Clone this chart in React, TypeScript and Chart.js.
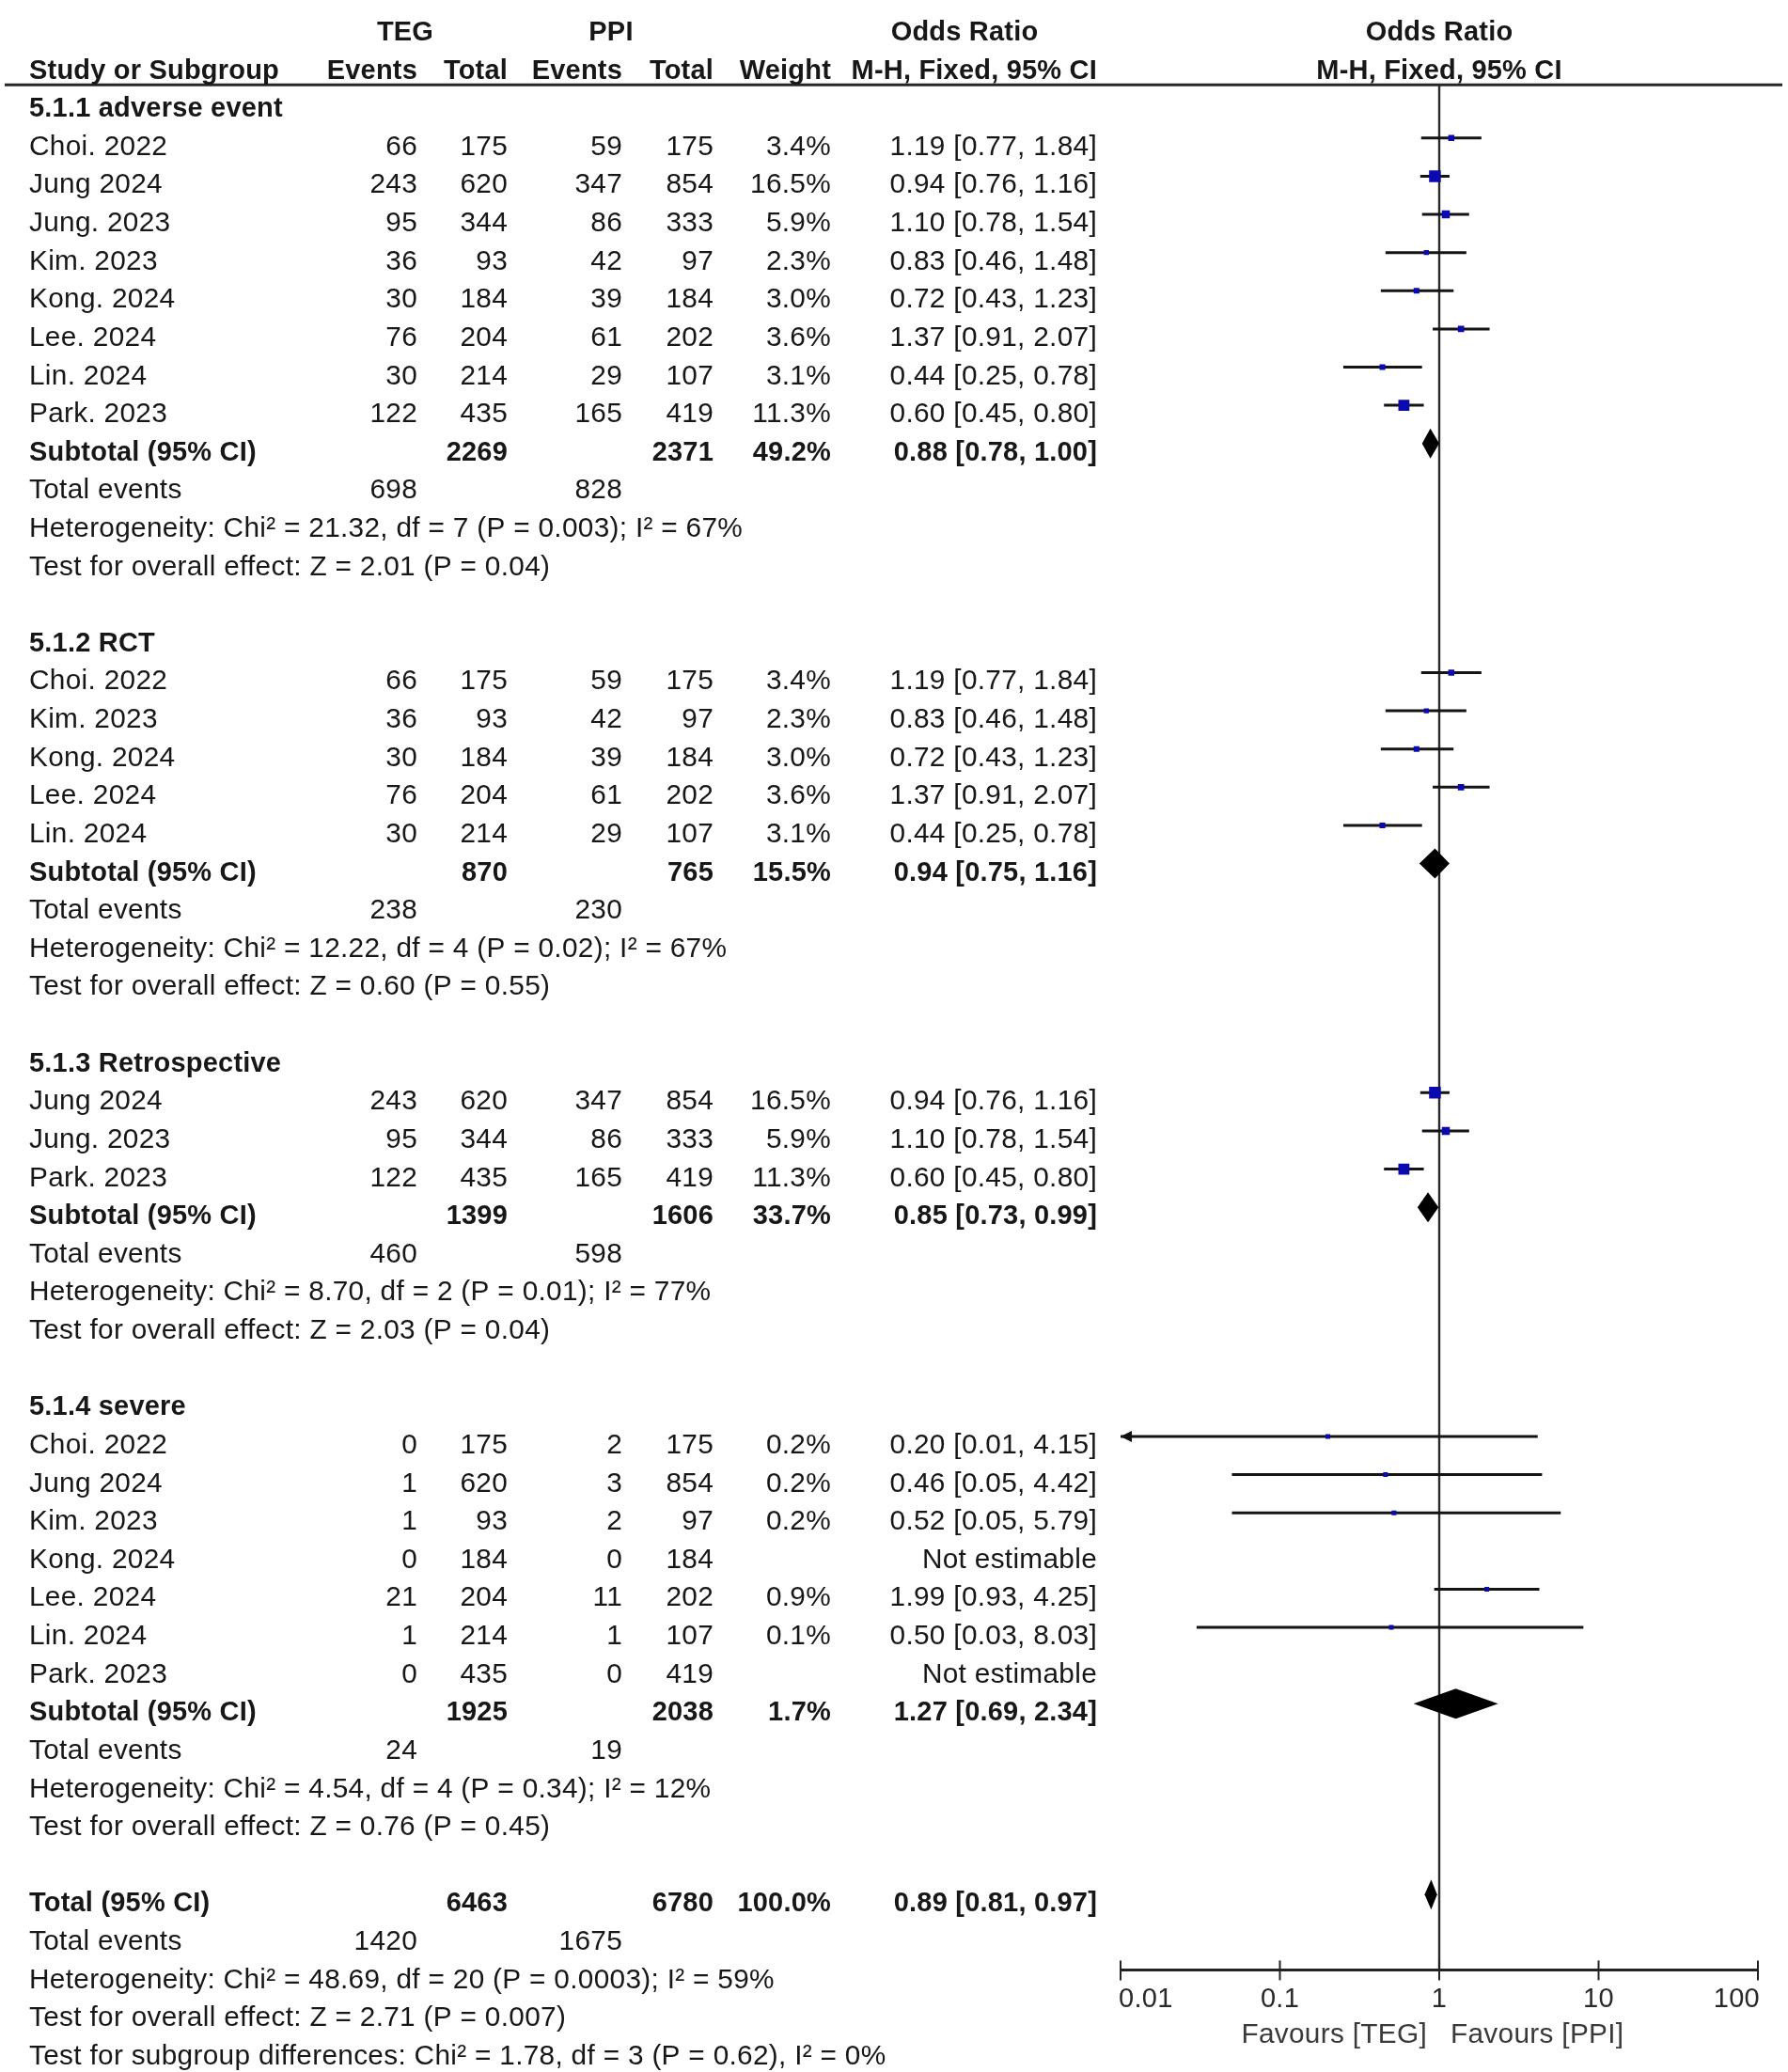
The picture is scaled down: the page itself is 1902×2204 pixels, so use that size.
import React, { useEffect, useRef } from "react";
import { Chart, registerables } from "chart.js";

Chart.register(...registerables);

// ---------------- data ----------------
const SUBGROUP_TITLES = ["5.1.1 adverse event", "5.1.2 RCT", "5.1.3 Retrospective", "5.1.4 severe"];

const SG1_STUDIES = ["Choi. 2022", "Jung 2024", "Jung. 2023", "Kim. 2023", "Kong. 2024", "Lee. 2024", "Lin. 2024", "Park. 2023"];
const SG1_TEG_EVENTS = [66, 243, 95, 36, 30, 76, 30, 122];
const SG1_TEG_TOTAL = [175, 620, 344, 93, 184, 204, 214, 435];
const SG1_PPI_EVENTS = [59, 347, 86, 42, 39, 61, 29, 165];
const SG1_PPI_TOTAL = [175, 854, 333, 97, 184, 202, 107, 419];
const SG1_WEIGHT = [3.4, 16.5, 5.9, 2.3, 3.0, 3.6, 3.1, 11.3];
const SG1_OR = [1.19, 0.94, 1.1, 0.83, 0.72, 1.37, 0.44, 0.6];
const SG1_LOW = [0.77, 0.76, 0.78, 0.46, 0.43, 0.91, 0.25, 0.45];
const SG1_HIGH = [1.84, 1.16, 1.54, 1.48, 1.23, 2.07, 0.78, 0.8];

const SG2_STUDIES = ["Choi. 2022", "Kim. 2023", "Kong. 2024", "Lee. 2024", "Lin. 2024"];
const SG2_TEG_EVENTS = [66, 36, 30, 76, 30];
const SG2_TEG_TOTAL = [175, 93, 184, 204, 214];
const SG2_PPI_EVENTS = [59, 42, 39, 61, 29];
const SG2_PPI_TOTAL = [175, 97, 184, 202, 107];
const SG2_WEIGHT = [3.4, 2.3, 3.0, 3.6, 3.1];
const SG2_OR = [1.19, 0.83, 0.72, 1.37, 0.44];
const SG2_LOW = [0.77, 0.46, 0.43, 0.91, 0.25];
const SG2_HIGH = [1.84, 1.48, 1.23, 2.07, 0.78];

const SG3_STUDIES = ["Jung 2024", "Jung. 2023", "Park. 2023"];
const SG3_TEG_EVENTS = [243, 95, 122];
const SG3_TEG_TOTAL = [620, 344, 435];
const SG3_PPI_EVENTS = [347, 86, 165];
const SG3_PPI_TOTAL = [854, 333, 419];
const SG3_WEIGHT = [16.5, 5.9, 11.3];
const SG3_OR = [0.94, 1.1, 0.6];
const SG3_LOW = [0.76, 0.78, 0.45];
const SG3_HIGH = [1.16, 1.54, 0.8];

const SG4_STUDIES = ["Choi. 2022", "Jung 2024", "Kim. 2023", "Kong. 2024", "Lee. 2024", "Lin. 2024", "Park. 2023"];
const SG4_TEG_EVENTS = [0, 1, 1, 0, 21, 1, 0];
const SG4_TEG_TOTAL = [175, 620, 93, 184, 204, 214, 435];
const SG4_PPI_EVENTS = [2, 3, 2, 0, 11, 1, 0];
const SG4_PPI_TOTAL = [175, 854, 97, 184, 202, 107, 419];
const SG4_WEIGHT = [0.2, 0.2, 0.2, null, 0.9, 0.1, null];
const SG4_OR = [0.2, 0.46, 0.52, null, 1.99, 0.5, null];
const SG4_LOW = [0.01, 0.05, 0.05, null, 0.93, 0.03, null];
const SG4_HIGH = [4.15, 4.42, 5.79, null, 4.25, 8.03, null];

const SUBTOTAL_TEG_TOTAL = [2269, 870, 1399, 1925];
const SUBTOTAL_PPI_TOTAL = [2371, 765, 1606, 2038];
const SUBTOTAL_WEIGHT = [49.2, 15.5, 33.7, 1.7];
const SUBTOTAL_OR = [0.88, 0.94, 0.85, 1.27];
const SUBTOTAL_LOW = [0.78, 0.75, 0.73, 0.69];
const SUBTOTAL_HIGH = [1.0, 1.16, 0.99, 2.34];
const SUBTOTAL_TEG_EVENTS = [698, 238, 460, 24];
const SUBTOTAL_PPI_EVENTS = [828, 230, 598, 19];
const SUBGROUP_HET = [
  "Heterogeneity: Chi² = 21.32, df = 7 (P = 0.003); I² = 67%",
  "Heterogeneity: Chi² = 12.22, df = 4 (P = 0.02); I² = 67%",
  "Heterogeneity: Chi² = 8.70, df = 2 (P = 0.01); I² = 77%",
  "Heterogeneity: Chi² = 4.54, df = 4 (P = 0.34); I² = 12%",
];
const SUBGROUP_Z = [
  "Test for overall effect: Z = 2.01 (P = 0.04)",
  "Test for overall effect: Z = 0.60 (P = 0.55)",
  "Test for overall effect: Z = 2.03 (P = 0.04)",
  "Test for overall effect: Z = 0.76 (P = 0.45)",
];

const TOTAL_TEG_TOTAL = 6463;
const TOTAL_PPI_TOTAL = 6780;
const TOTAL_WEIGHT = 100.0;
const TOTAL_OR = 0.89;
const TOTAL_LOW = 0.81;
const TOTAL_HIGH = 0.97;
const TOTAL_TEG_EVENTS = 1420;
const TOTAL_PPI_EVENTS = 1675;
const TOTAL_HET = "Heterogeneity: Chi² = 48.69, df = 20 (P = 0.0003); I² = 59%";
const TOTAL_Z = "Test for overall effect: Z = 2.71 (P = 0.007)";
const SUBGROUP_DIFF = "Test for subgroup differences: Chi² = 1.78, df = 3 (P = 0.62), I² = 0%";

const AXIS_TICKS = [0.01, 0.1, 1, 10, 100];
const AXIS_TICK_LABELS = ["0.01", "0.1", "1", "10", "100"];
const FAVOURS_LEFT = "Favours [TEG]";
const FAVOURS_RIGHT = "Favours [PPI]";

// ---------------- layout / style constants ----------------
const W = 1902;
const H = 2204;
const ROW_PITCH = 40.95;
const MARK_TOP = 98.1; // pixel of row 0 marks
const TEXT_DROP = 18; // baseline below mark centre
const X_MIN = 0.01;
const X_MAX = 100;
const PLOT_LEFT = 1192;
const PLOT_RIGHT = 1870;
const COL = { name: 31, tegEv: 444, tegTot: 540, ppiEv: 662, ppiTot: 759, weight: 884, or: 1167 };
const FONT = '"Liberation Sans", Arial, sans-serif';
const FS_REG = 29.8;
const FS_BOLD = 29;
const TEXT_COLOR = "#171717";
const SQUARE_COLOR = "#0a0ab0";
const HEADER_LINE_ROW = -0.39;
const AXIS_ROW = 48.97;

// ---------------- build rows ----------------
type TextItem = { row: number; x: number; text: string; align: CanvasTextAlign; bold?: boolean };
type Mark = { row: number; or: number; lo: number; hi: number; w: number };
type Diamond = { row: number; or: number; lo: number; hi: number };

const fmtOR = (o: number, l: number, h: number) => `${o.toFixed(2)} [${l.toFixed(2)}, ${h.toFixed(2)}]`;

const groups = [
  [SG1_STUDIES, SG1_TEG_EVENTS, SG1_TEG_TOTAL, SG1_PPI_EVENTS, SG1_PPI_TOTAL, SG1_WEIGHT, SG1_OR, SG1_LOW, SG1_HIGH],
  [SG2_STUDIES, SG2_TEG_EVENTS, SG2_TEG_TOTAL, SG2_PPI_EVENTS, SG2_PPI_TOTAL, SG2_WEIGHT, SG2_OR, SG2_LOW, SG2_HIGH],
  [SG3_STUDIES, SG3_TEG_EVENTS, SG3_TEG_TOTAL, SG3_PPI_EVENTS, SG3_PPI_TOTAL, SG3_WEIGHT, SG3_OR, SG3_LOW, SG3_HIGH],
  [SG4_STUDIES, SG4_TEG_EVENTS, SG4_TEG_TOTAL, SG4_PPI_EVENTS, SG4_PPI_TOTAL, SG4_WEIGHT, SG4_OR, SG4_LOW, SG4_HIGH],
] as any[];

const texts: TextItem[] = [];
const marks: Mark[] = [];
const diamonds: Diamond[] = [];

// headers
texts.push({ row: -2, x: 431, text: "TEG", align: "center", bold: true });
texts.push({ row: -2, x: 650, text: "PPI", align: "center", bold: true });
texts.push({ row: -2, x: 1026, text: "Odds Ratio", align: "center", bold: true });
texts.push({ row: -1, x: COL.name, text: "Study or Subgroup", align: "left", bold: true });
texts.push({ row: -1, x: COL.tegEv, text: "Events", align: "right", bold: true });
texts.push({ row: -1, x: COL.tegTot, text: "Total", align: "right", bold: true });
texts.push({ row: -1, x: COL.ppiEv, text: "Events", align: "right", bold: true });
texts.push({ row: -1, x: COL.ppiTot, text: "Total", align: "right", bold: true });
texts.push({ row: -1, x: COL.weight, text: "Weight", align: "right", bold: true });
texts.push({ row: -1, x: COL.or, text: "M-H, Fixed, 95% CI", align: "right", bold: true });

let r = 0;
groups.forEach((g, gi) => {
  const [names, te, tt, pe, pt, wt, or, lo, hi] = g;
  texts.push({ row: r, x: COL.name, text: SUBGROUP_TITLES[gi], align: "left", bold: true });
  r++;
  names.forEach((n: string, i: number) => {
    texts.push({ row: r, x: COL.name, text: n, align: "left" });
    texts.push({ row: r, x: COL.tegEv, text: String(te[i]), align: "right" });
    texts.push({ row: r, x: COL.tegTot, text: String(tt[i]), align: "right" });
    texts.push({ row: r, x: COL.ppiEv, text: String(pe[i]), align: "right" });
    texts.push({ row: r, x: COL.ppiTot, text: String(pt[i]), align: "right" });
    if (or[i] == null) {
      texts.push({ row: r, x: COL.or, text: "Not estimable", align: "right" });
    } else {
      texts.push({ row: r, x: COL.weight, text: `${wt[i].toFixed(1)}%`, align: "right" });
      texts.push({ row: r, x: COL.or, text: fmtOR(or[i], lo[i], hi[i]), align: "right" });
      marks.push({ row: r, or: or[i], lo: lo[i], hi: hi[i], w: wt[i] });
    }
    r++;
  });
  texts.push({ row: r, x: COL.name, text: "Subtotal (95% CI)", align: "left", bold: true });
  texts.push({ row: r, x: COL.tegTot, text: String(SUBTOTAL_TEG_TOTAL[gi]), align: "right", bold: true });
  texts.push({ row: r, x: COL.ppiTot, text: String(SUBTOTAL_PPI_TOTAL[gi]), align: "right", bold: true });
  texts.push({ row: r, x: COL.weight, text: `${SUBTOTAL_WEIGHT[gi].toFixed(1)}%`, align: "right", bold: true });
  texts.push({ row: r, x: COL.or, text: fmtOR(SUBTOTAL_OR[gi], SUBTOTAL_LOW[gi], SUBTOTAL_HIGH[gi]), align: "right", bold: true });
  diamonds.push({ row: r, or: SUBTOTAL_OR[gi], lo: SUBTOTAL_LOW[gi], hi: SUBTOTAL_HIGH[gi] });
  r++;
  texts.push({ row: r, x: COL.name, text: "Total events", align: "left" });
  texts.push({ row: r, x: COL.tegEv, text: String(SUBTOTAL_TEG_EVENTS[gi]), align: "right" });
  texts.push({ row: r, x: COL.ppiEv, text: String(SUBTOTAL_PPI_EVENTS[gi]), align: "right" });
  r++;
  texts.push({ row: r, x: COL.name, text: SUBGROUP_HET[gi], align: "left" });
  r++;
  texts.push({ row: r, x: COL.name, text: SUBGROUP_Z[gi], align: "left" });
  r += 2;
});
texts.push({ row: r, x: COL.name, text: "Total (95% CI)", align: "left", bold: true });
texts.push({ row: r, x: COL.tegTot, text: String(TOTAL_TEG_TOTAL), align: "right", bold: true });
texts.push({ row: r, x: COL.ppiTot, text: String(TOTAL_PPI_TOTAL), align: "right", bold: true });
texts.push({ row: r, x: COL.weight, text: `${TOTAL_WEIGHT.toFixed(1)}%`, align: "right", bold: true });
texts.push({ row: r, x: COL.or, text: fmtOR(TOTAL_OR, TOTAL_LOW, TOTAL_HIGH), align: "right", bold: true });
diamonds.push({ row: r, or: TOTAL_OR, lo: TOTAL_LOW, hi: TOTAL_HIGH });
r++;
texts.push({ row: r, x: COL.name, text: "Total events", align: "left" });
texts.push({ row: r, x: COL.tegEv, text: String(TOTAL_TEG_EVENTS), align: "right" });
texts.push({ row: r, x: COL.ppiEv, text: String(TOTAL_PPI_EVENTS), align: "right" });
r++;
texts.push({ row: r, x: COL.name, text: TOTAL_HET, align: "left" });
r++;
texts.push({ row: r, x: COL.name, text: TOTAL_Z, align: "left" });
r++;
texts.push({ row: r, x: COL.name, text: SUBGROUP_DIFF, align: "left" });

const squareSide = (w: number) => Math.min(12.5, Math.max(5, 3.5 * Math.sqrt(w)));

const setFont = (ctx: any, bold: boolean) => {
  ctx.font = bold ? `bold ${FS_BOLD}px ${FONT}` : `${FS_REG}px ${FONT}`;
  try {
    ctx.letterSpacing = bold ? "0.2px" : "0.3px";
  } catch (e) {
    /* ignore */
  }
};

// ---------------- plugin ----------------
const forestPlugin = {
  id: "forest",
  beforeDatasetsDraw(chart: any) {
    const { ctx, scales } = chart;
    const xs = scales.x;
    const ys = scales.y;
    ctx.save();
    // header rule
    ctx.strokeStyle = "#262626";
    ctx.lineWidth = 3;
    const hy = ys.getPixelForValue(HEADER_LINE_ROW);
    ctx.beginPath();
    ctx.moveTo(5, hy);
    ctx.lineTo(W - 6, hy);
    ctx.stroke();
    // line of no effect
    const x1 = xs.getPixelForValue(1);
    ctx.lineWidth = 2.4;
    ctx.strokeStyle = "#2a2a2a";
    ctx.beginPath();
    ctx.moveTo(x1, hy);
    ctx.lineTo(x1, ys.getPixelForValue(AXIS_ROW));
    ctx.stroke();
    ctx.restore();
  },
  afterDatasetsDraw(chart: any) {
    const { ctx, scales } = chart;
    const xs = scales.x;
    const ys = scales.y;
    ctx.save();
    // arrows for truncated CIs
    ctx.fillStyle = "#111";
    marks.forEach((m) => {
      const y = ys.getPixelForValue(m.row);
      if (m.lo <= X_MIN) {
        const x = xs.getPixelForValue(X_MIN);
        ctx.beginPath();
        ctx.moveTo(x, y);
        ctx.lineTo(x + 12, y - 6);
        ctx.lineTo(x + 12, y + 6);
        ctx.closePath();
        ctx.fill();
      }
      if (m.hi >= X_MAX) {
        const x = xs.getPixelForValue(X_MAX);
        ctx.beginPath();
        ctx.moveTo(x, y);
        ctx.lineTo(x - 12, y - 6);
        ctx.lineTo(x - 12, y + 6);
        ctx.closePath();
        ctx.fill();
      }
    });
    // diamonds
    ctx.fillStyle = "#000";
    diamonds.forEach((d) => {
      const y = ys.getPixelForValue(d.row);
      const xl = xs.getPixelForValue(d.lo);
      const xe = xs.getPixelForValue(d.or);
      const xh = xs.getPixelForValue(d.hi);
      const hh = 16;
      ctx.beginPath();
      ctx.moveTo(xl, y);
      ctx.lineTo(xe, y - hh);
      ctx.lineTo(xh, y);
      ctx.lineTo(xe, y + hh);
      ctx.closePath();
      ctx.fill();
    });
    // table text
    ctx.fillStyle = TEXT_COLOR;
    ctx.textBaseline = "alphabetic";
    texts.forEach((t) => {
      setFont(ctx, !!t.bold);
      ctx.textAlign = t.align;
      ctx.fillText(t.text, t.x, ys.getPixelForValue(t.row) + TEXT_DROP);
    });
    // right-side headers
    const x1 = xs.getPixelForValue(1);
    setFont(ctx, true);
    ctx.textAlign = "center";
    ctx.fillText("Odds Ratio", x1, ys.getPixelForValue(-2) + TEXT_DROP);
    ctx.fillText("M-H, Fixed, 95% CI", x1, ys.getPixelForValue(-1) + TEXT_DROP);
    // axis
    const ay = ys.getPixelForValue(AXIS_ROW);
    ctx.strokeStyle = "#222";
    ctx.lineWidth = 3;
    ctx.beginPath();
    ctx.moveTo(xs.getPixelForValue(X_MIN), ay);
    ctx.lineTo(xs.getPixelForValue(X_MAX), ay);
    ctx.stroke();
    ctx.lineWidth = 2;
    ctx.fillStyle = "#2a2a2a";
    ctx.font = `29px ${FONT}`;
    try {
      ctx.letterSpacing = "0.3px";
    } catch (e) {
      /* ignore */
    }
    AXIS_TICKS.forEach((v, i) => {
      const x = xs.getPixelForValue(v);
      ctx.beginPath();
      ctx.moveTo(x, ay - 10);
      ctx.lineTo(x, ay + 11);
      ctx.stroke();
      ctx.textAlign = i === 0 ? "left" : i === AXIS_TICKS.length - 1 ? "right" : "center";
      ctx.fillText(AXIS_TICK_LABELS[i], i === 0 ? x - 2 : i === AXIS_TICKS.length - 1 ? x + 2 : x, ay + 40);
    });
    setFont(ctx, false);
    ctx.fillStyle = "#3a3a3a";
    ctx.textAlign = "right";
    ctx.fillText(FAVOURS_LEFT, x1 - 13, ay + 78);
    ctx.textAlign = "left";
    ctx.fillText(FAVOURS_RIGHT, x1 + 12, ay + 78);
    ctx.restore();
  },
};

export default function App() {
  const ref = useRef<HTMLCanvasElement>(null);
  useEffect(() => {
    if (!ref.current) return;
    const ciDatasets = marks.map((m) => ({
      type: "line" as const,
      data: [
        { x: Math.max(m.lo, X_MIN), y: m.row },
        { x: Math.min(m.hi, X_MAX), y: m.row },
      ],
      borderColor: "#141414",
      borderWidth: 3,
      pointRadius: 0,
      fill: false,
      order: 2,
    }));
    const squares = {
      type: "scatter" as const,
      data: marks.map((m) => ({ x: m.or, y: m.row, w: m.w })),
      pointStyle: "rect",
      pointRadius: (c: any) => squareSide(c.raw ? c.raw.w : 1) / Math.SQRT2,
      pointBorderWidth: 0,
      borderWidth: 0,
      backgroundColor: SQUARE_COLOR,
      pointBackgroundColor: SQUARE_COLOR,
      order: 0,
    };
    const yMin = -MARK_TOP / ROW_PITCH;
    const yMax = (H - MARK_TOP) / ROW_PITCH;
    const chart = new Chart(ref.current, {
      type: "scatter",
      data: { datasets: [...ciDatasets, squares] as any },
      options: {
        animation: false,
        responsive: false,
        devicePixelRatio: 1,
        events: [],
        layout: { padding: { left: PLOT_LEFT, right: W - PLOT_RIGHT, top: 0, bottom: 0 } },
        plugins: { legend: { display: false }, tooltip: { enabled: false } },
        scales: {
          x: { type: "logarithmic", min: X_MIN, max: X_MAX, display: false },
          y: { type: "linear", min: yMin, max: yMax, reverse: true, display: false },
        },
      } as any,
      plugins: [forestPlugin],
    });
    return () => chart.destroy();
  }, []);
  return (
    <div style={{ position: "absolute", left: 0, top: 0, width: W, height: H, background: "#fff", overflow: "hidden" }}>
      <canvas ref={ref} width={W} height={H} style={{ display: "block", width: W, height: H }} />
    </div>
  );
}
